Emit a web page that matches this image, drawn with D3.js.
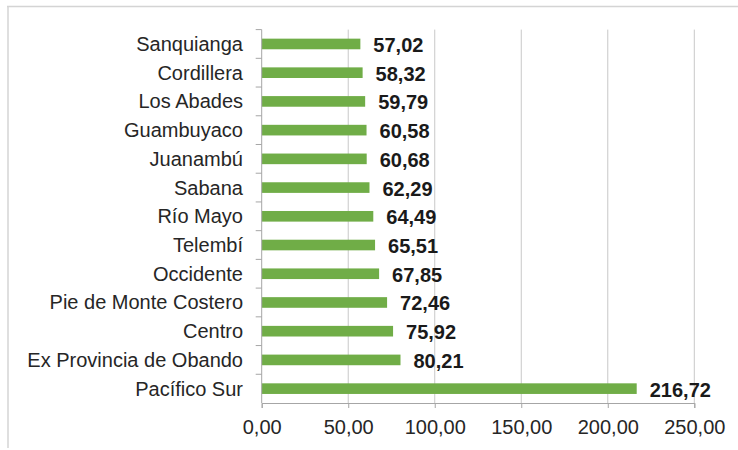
<!DOCTYPE html>
<html>
<head>
<meta charset="utf-8">
<script src="https://cdn.jsdelivr.net/npm/d3@7"></script>
<style>
  html, body { margin: 0; padding: 0; background: #fff; }
  svg { display: block; }
  text { font-family: "Liberation Sans", Arial, sans-serif; }
</style>
</head>
<body>
<svg id="chart" width="738" height="450"></svg>
<script>
const categories = ["Sanquianga", "Cordillera", "Los Abades", "Guambuyaco", "Juanambú", "Sabana", "Río Mayo", "Telembí", "Occidente", "Pie de Monte Costero", "Centro", "Ex Provincia de Obando", "Pacífico Sur"];
const values = [57.02, 58.32, 59.79, 60.58, 60.68, 62.29, 64.49, 65.51, 67.85, 72.46, 75.92, 80.21, 216.72];
const xTicks = [0, 50, 100, 150, 200, 250];

const svg = d3.select("#chart");
const plotLeft = 261.7, plotRight = 694.3, plotTop = 29.6, plotBottom = 403;

// outer frame
svg.append("line").attr("x1", 7).attr("x2", 738).attr("y1", 6.5).attr("y2", 6.5)
  .attr("stroke", "#d4d4d4").attr("stroke-width", 1.5);
svg.append("line").attr("x1", 8).attr("x2", 8).attr("y1", 6).attr("y2", 448)
  .attr("stroke", "#d4d4d4").attr("stroke-width", 1.5);

const x = d3.scaleLinear().domain([0, 250]).range([plotLeft, plotRight]);
const y = d3.scaleBand().domain(categories).range([plotTop, plotBottom])
  .paddingInner(0.63).paddingOuter(0.315);

const fmt = v => d3.format(".2f")(v).replace(".", ",");

// gridlines
svg.append("g").selectAll("line").data(xTicks.slice(1)).join("line")
  .attr("x1", d => x(d)).attr("x2", d => x(d))
  .attr("y1", plotTop).attr("y2", plotBottom)
  .attr("stroke", "#c8c8c8").attr("stroke-width", 1);

// bars
svg.append("g").selectAll("rect").data(categories).join("rect")
  .attr("x", x(0))
  .attr("y", d => y(d))
  .attr("width", (d, i) => x(values[i]) - x(0))
  .attr("height", y.bandwidth())
  .attr("fill", "#70ad47");

// x axis
const xAxis = d3.axisBottom(x).tickValues(xTicks).tickFormat(fmt).tickSize(5).tickPadding(12);
const gx = svg.append("g").attr("transform", `translate(0,${plotBottom})`).call(xAxis);
gx.select(".domain").attr("stroke", "#a6a6a6");
gx.selectAll(".tick line").attr("stroke", "#a6a6a6");
gx.selectAll(".tick text").attr("font-size", 20).attr("fill", "#262626")
  .attr("font-family", "Liberation Sans, Arial, sans-serif");

// y axis line with boundary ticks
const step = y.step();
svg.append("line").attr("x1", plotLeft).attr("x2", plotLeft).attr("y1", plotTop).attr("y2", plotBottom)
  .attr("stroke", "#a6a6a6");
svg.append("g").selectAll("line").data(d3.range(categories.length)).join("line")
  .attr("x1", plotLeft - 6).attr("x2", plotLeft)
  .attr("y1", i => plotTop + i * step).attr("y2", i => plotTop + i * step)
  .attr("stroke", "#a6a6a6");

// category labels
svg.append("g").selectAll("text").data(categories).join("text")
  .attr("x", 243)
  .attr("y", d => y(d) + y.bandwidth() / 2)
  .attr("dy", "0.35em")
  .attr("text-anchor", "end")
  .attr("font-size", 20)
  .attr("fill", "#262626")
  .text(d => d);

// value labels
svg.append("g").selectAll("text").data(categories).join("text")
  .attr("x", (d, i) => x(values[i]) + 13)
  .attr("y", d => y(d) + y.bandwidth() / 2)
  .attr("dy", "0.4em")
  .attr("font-size", 20)
  .attr("font-weight", "bold")
  .attr("fill", "#1a1a1a")
  .text((d, i) => fmt(values[i]));
</script>
</body>
</html>
